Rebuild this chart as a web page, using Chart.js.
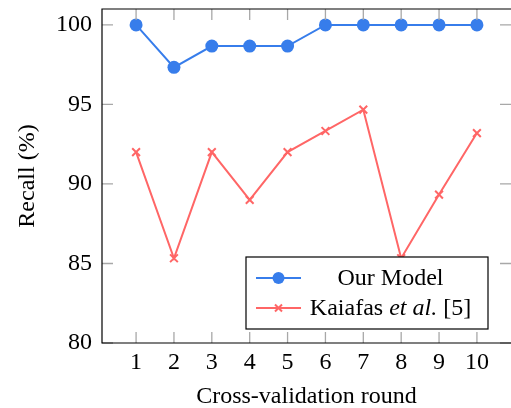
<!DOCTYPE html>
<html>
<head>
<meta charset="utf-8">
<script src="https://cdn.jsdelivr.net/npm/chart.js@4.4.0/dist/chart.umd.min.js"></script>
<style>
  html, body { margin: 0; padding: 0; background: #fff; }
  #wrap { width: 511px; height: 408px; }
</style>
</head>
<body>
<div id="wrap"><canvas id="myChart" width="511" height="408"></canvas></div>
<script>
// data
const rounds = [1, 2, 3, 4, 5, 6, 7, 8, 9, 10];
const ourModel = [100, 97.33, 98.67, 98.67, 98.67, 100, 100, 100, 100, 100];
const kaiafas = [92, 85.33, 92, 89, 92, 93.33, 94.67, 85.33, 89.33, 93.2];
const yTicks = [80, 85, 90, 95, 100];
const legendLabels = [
    [{text: 'Our Model', italic: false}],
    [{text: 'Kaiafas ', italic: false}, {text: 'et al.', italic: true}, {text: ' [5]', italic: false}]
];

const BLUE = 'rgb(55,125,235)';
const RED = 'rgb(255,102,102)';
const SERIF = '"Liberation Serif", "DejaVu Serif", serif';
const FS = 24;

// inward grey ticks on all four sides + legend box
const frameAndLegend = {
    id: 'frameAndLegend',
    afterDatasetsDraw(chart) {
        const ctx = chart.ctx;
        const area = chart.chartArea;
        const xs = chart.scales.x, ys = chart.scales.y;
        ctx.save();
        ctx.strokeStyle = '#a8a8a8';
        ctx.lineWidth = 1.3;
        const len = 11;
        for (const v of rounds) {
            const px = xs.getPixelForValue(v);
            ctx.beginPath();
            ctx.moveTo(px, area.top); ctx.lineTo(px, area.top + len);
            ctx.moveTo(px, area.bottom); ctx.lineTo(px, area.bottom - len);
            ctx.stroke();
        }
        for (const v of yTicks) {
            const py = ys.getPixelForValue(v);
            ctx.beginPath();
            ctx.moveTo(area.left, py); ctx.lineTo(area.left + len, py);
            ctx.moveTo(area.right, py); ctx.lineTo(area.right - len, py);
            ctx.stroke();
        }
        // frame
        ctx.strokeStyle = '#000';
        ctx.lineWidth = 1.2;
        ctx.beginPath();
        ctx.moveTo(area.right, area.top);
        ctx.lineTo(area.left, area.top);
        ctx.lineTo(area.left, area.bottom);
        ctx.lineTo(area.right, area.bottom);
        ctx.stroke();

        // legend
        const lx = 246, ly = 257, lw = 242, lh = 72;
        ctx.fillStyle = '#fff';
        ctx.fillRect(lx, ly, lw, lh);
        ctx.strokeStyle = '#000';
        ctx.lineWidth = 1.2;
        ctx.strokeRect(lx, ly, lw, lh);
        const rows = [278, 308];
        chart.data.datasets.forEach((ds, i) => {
            const y = rows[i];
            ctx.strokeStyle = ds.borderColor;
            ctx.lineWidth = 2;
            ctx.beginPath();
            ctx.moveTo(256, y); ctx.lineTo(301, y);
            ctx.stroke();
            if (ds.pointStyle === 'circle') {
                ctx.fillStyle = ds.borderColor;
                ctx.beginPath();
                ctx.arc(278.5, y, 6, 0, Math.PI * 2);
                ctx.fill();
            } else {
                const r = 3.5;
                ctx.beginPath();
                ctx.moveTo(278.5 - r, y - r); ctx.lineTo(278.5 + r, y + r);
                ctx.moveTo(278.5 - r, y + r); ctx.lineTo(278.5 + r, y - r);
                ctx.stroke();
            }
            // label, centred around x=390
            const parts = legendLabels[i];
            ctx.fillStyle = '#000';
            ctx.textBaseline = 'middle';
            ctx.textAlign = 'left';
            let total = 0;
            for (const p of parts) {
                ctx.font = (p.italic ? 'italic ' : '') + FS + 'px ' + SERIF;
                total += ctx.measureText(p.text).width;
            }
            let x = 390.5 - total / 2;
            for (const p of parts) {
                ctx.font = (p.italic ? 'italic ' : '') + FS + 'px ' + SERIF;
                ctx.fillText(p.text, x, y + 1);
                x += ctx.measureText(p.text).width;
            }
        });
        ctx.restore();
    }
};

const ctx = document.getElementById('myChart').getContext('2d');
const chart = new Chart(ctx, {
    type: 'line',
    data: {
        datasets: [{
            label: 'Our Model',
            data: rounds.map((r, i) => ({x: r, y: ourModel[i]})),
            borderColor: BLUE,
            backgroundColor: BLUE,
            borderWidth: 2,
            pointStyle: 'circle',
            pointRadius: 6.5,
            pointBorderWidth: 0,
            tension: 0
        }, {
            label: 'Kaiafas et al. [5]',
            data: rounds.map((r, i) => ({x: r, y: kaiafas[i]})),
            borderColor: RED,
            backgroundColor: RED,
            borderWidth: 2,
            pointStyle: 'crossRot',
            pointRadius: 5.5,
            pointBorderWidth: 2,
            tension: 0
        }]
    },
    options: {
        responsive: false,
        animation: false,
        layout: { autoPadding: false, padding: { top: 9, right: 0, left: 0, bottom: 0 } },
        plugins: { legend: { display: false }, tooltip: { enabled: false } },
        scales: {
            x: {
                type: 'linear',
                min: 0.1,
                max: 10.9,
                afterBuildTicks: (scale) => { scale.ticks = rounds.map(v => ({value: v})); },
                afterFit: (scale) => { scale.height = 65; scale.paddingLeft = 0; scale.paddingRight = 0; },
                grid: { display: false, drawTicks: false },
                border: { display: false },
                ticks: { color: '#000', font: { family: SERIF, size: FS }, padding: 5, maxRotation: 0 },
                title: { display: true, text: 'Cross-validation round', color: '#000',
                         font: { family: SERIF, size: FS }, padding: { top: 0, bottom: -3 } }
            },
            y: {
                min: 80,
                max: 101,
                afterBuildTicks: (scale) => { scale.ticks = yTicks.map(v => ({value: v})); },
                afterFit: (scale) => { scale.width = 102; scale.paddingTop = 0; scale.paddingBottom = 0; },
                grid: { display: false, drawTicks: false },
                border: { display: false },
                ticks: { color: '#000', font: { family: SERIF, size: FS }, padding: 10 },
                title: { display: true, text: 'Recall (%)', color: '#000',
                         font: { family: SERIF, size: FS }, padding: { top: 13, bottom: 0 } }
            }
        }
    },
    plugins: [frameAndLegend]
});
</script>
</body>
</html>
